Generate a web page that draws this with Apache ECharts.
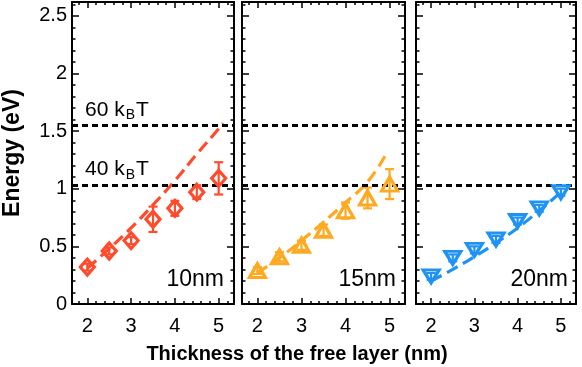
<!DOCTYPE html>
<html>
<head>
<meta charset="utf-8">
<script src="https://cdn.jsdelivr.net/npm/echarts@6/dist/echarts.min.js"></script>
<style>
html,body{margin:0;padding:0;background:#fff;}
#chart{width:582px;height:367px;}
</style>
</head>
<body>
<div id="chart"></div>
<script>
// ---- data ----
const xTickValues = [2, 3, 4, 5];
const xTickLabels = ['2', '3', '4', '5'];
const yTickValues = [0, 0.5, 1, 1.5, 2, 2.5];
const yTickLabels = ['0', '0.5', '1', '1.5', '2', '2.5'];

const thickness = [2, 2.5, 3, 3.5, 4, 4.5, 5];
const energy10 = [0.32, 0.46, 0.55, 0.735, 0.83, 0.97, 1.09];
const error10 = [0.03, 0.03, 0.03, 0.11, 0.065, 0.06, 0.14];
const energy15 = [0.29, 0.41, 0.51, 0.64, 0.81, 0.92, 1.04];
const error15 = [0.03, 0.04, 0.04, 0.05, 0.07, 0.09, 0.13];
const energy20 = [0.24, 0.40, 0.47, 0.56, 0.72, 0.83, 0.97];
const error20 = [0.03, 0.03, 0.03, 0.03, 0.03, 0.03, 0.03];

const fitX10 = [2, 2.5, 3, 3.5, 4, 4.5, 5, 5.1];
const fitY10 = [0.31, 0.48, 0.66, 0.86, 1.07, 1.30, 1.52, 1.57];
const fitX15 = [2, 2.5, 3, 3.5, 4, 4.5, 4.95];
const fitY15 = [0.27, 0.40, 0.55, 0.71, 0.88, 1.06, 1.32];
const fitX20 = [2, 2.5, 3, 3.5, 4, 4.5, 5, 5.05];
const fitY20 = [0.20, 0.30, 0.41, 0.53, 0.66, 0.81, 0.97, 0.99];

const thermalLines = [1.55, 1.035];
const thermalLabels = ['60', '40'];
const panelLabels = ['10nm', '15nm', '20nm'];

// ---- style / layout ----
const FONT = 'Liberation Sans, Arial, Helvetica, sans-serif';
const X_MIN = 1.65, X_MAX = 5.35, Y_MIN = 0, Y_MAX = 2.62;
const colors = ['#FF4B2B', '#FFA921', '#1E93F5'];
const symbols = ['diamond', 'triangle', 'triangle'];
const symbolRot = [0, 0, 180];
const symbolSizes = [[14, 16], [16, 14], [16, 13]];
const grids = [
  {left: 71, top: 2, width: 163, height: 302},
  {left: 242, top: 2, width: 163, height: 302},
  {left: 416, top: 2, width: 160, height: 302}
];

const xMinor = [];
for (let i = 9; i <= 26; i++) { const v = +(i * 0.2).toFixed(1); if (Math.abs(v - Math.round(v)) > 1e-6) xMinor.push(v); }
const yMinor = [];
for (let i = 1; i <= 26; i++) { if (i % 5 !== 0) yMinor.push(+(i * 0.1).toFixed(1)); }

const axisLineOn = {show: true, onZero: false, lineStyle: {color: '#000', width: 2}};
const axisLineOff = {show: false, onZero: false};

const xAxes = [], yAxes = [];
grids.forEach((g, gi) => {
  ['bottom', 'top'].forEach(pos => {
    xAxes.push({
      gridIndex: gi, type: 'value', min: X_MIN, max: X_MAX, position: pos,
      axisLine: axisLineOn,
      axisTick: {show: true, inside: true, length: 6, customValues: xTickValues, lineStyle: {color: '#000', width: 1.5}},
      axisLabel: {show: pos === 'bottom', customValues: xTickValues, fontSize: 20, color: '#000', fontFamily: FONT, margin: 12,
        formatter: v => xTickLabels[xTickValues.indexOf(v)] ?? ''},
      splitLine: {show: false}
    });
    xAxes.push({
      gridIndex: gi, type: 'value', min: X_MIN, max: X_MAX, position: pos,
      axisLine: axisLineOff,
      axisTick: {show: true, inside: true, length: 3, customValues: xMinor, lineStyle: {color: '#000', width: 1.5}},
      axisLabel: {show: false}, splitLine: {show: false}
    });
  });
  ['left', 'right'].forEach(pos => {
    const showLab = (gi === 0 && pos === 'left');
    yAxes.push({
      gridIndex: gi, type: 'value', min: Y_MIN, max: Y_MAX, position: pos,
      axisLine: axisLineOn,
      axisTick: {show: true, inside: true, length: 7, customValues: yTickValues, lineStyle: {color: '#000', width: 1.5}},
      axisLabel: {show: showLab, customValues: yTickValues, fontSize: 20, color: '#000', fontFamily: FONT, margin: 5,
        formatter: v => yTickLabels[yTickValues.indexOf(v)] ?? ''},
      splitLine: {show: false},
      name: showLab ? 'Energy (eV)' : '',
      nameLocation: 'middle', nameRotate: 90, nameGap: 48,
      nameTextStyle: {fontSize: 23, fontWeight: 'bold', color: '#000', fontFamily: FONT}
    });
    yAxes.push({
      gridIndex: gi, type: 'value', min: Y_MIN, max: Y_MAX, position: pos,
      axisLine: axisLineOff,
      axisTick: {show: true, inside: true, length: 3.5, customValues: yMinor, lineStyle: {color: '#000', width: 1.5}},
      axisLabel: {show: false}, splitLine: {show: false}
    });
  });
});

const energies = [energy10, energy15, energy20];
const errors = [error10, error15, error20];
const fitXs = [fitX10, fitX15, fitX20];
const fitYs = [fitY10, fitY15, fitY20];

const series = [];
grids.forEach((g, gi) => {
  const xi = gi * 4, yi = gi * 4;
  const col = colors[gi];
  series.push({
    type: 'line', xAxisIndex: xi, yAxisIndex: yi,
    data: fitXs[gi].map((x, i) => [x, fitYs[gi][i]]),
    smooth: true, symbol: 'none', z: 3,
    lineStyle: {color: col, width: 3.2, type: [12, 6]},
    markLine: {
      silent: true, symbol: 'none', animation: false,
      lineStyle: {color: '#000', width: 2.8, type: [6, 4]},
      label: {show: false},
      data: thermalLines.map(v => ({yAxis: v}))
    },
    animation: false
  });
  series.push({
    type: 'custom', xAxisIndex: xi, yAxisIndex: yi, z: 4,
    data: thickness.map((x, i) => [x, energies[gi][i], errors[gi][i]]),
    encode: {x: 0, y: 1},
    renderItem: function (params, api) {
      const x = api.value(0), y = api.value(1), e = api.value(2);
      const t = api.coord([x, y + e]), b = api.coord([x, y - e]);
      const cw = 4.5;
      const st = {stroke: col, lineWidth: 2.2};
      return {type: 'group', children: [
        {type: 'line', shape: {x1: t[0], y1: t[1], x2: b[0], y2: b[1]}, style: st},
        {type: 'line', shape: {x1: t[0] - cw, y1: t[1], x2: t[0] + cw, y2: t[1]}, style: st},
        {type: 'line', shape: {x1: b[0] - cw, y1: b[1], x2: b[0] + cw, y2: b[1]}, style: st}
      ]};
    },
    animation: false
  });
  series.push({
    type: 'scatter', xAxisIndex: xi, yAxisIndex: yi, z: 5,
    data: thickness.map((x, i) => [x, energies[gi][i]]),
    symbol: symbols[gi], symbolRotate: symbolRot[gi], symbolSize: symbolSizes[gi],
    itemStyle: {color: 'rgba(0,0,0,0)', borderColor: col, borderWidth: 3.2, opacity: 1},
    animation: false
  });
});

const graphics = grids.map((g, gi) => ({
  type: 'text', x: g.left + g.width - [10, 9, 8][gi], y: 280,
  style: {text: panelLabels[gi], fontSize: 23, fontFamily: FONT, fill: '#000', align: 'right', verticalAlign: 'middle'}
}));
// k_B T annotations just above the thermal lines (panel 1)
const yPix = v => grids[0].top + grids[0].height * (1 - (v - Y_MIN) / (Y_MAX - Y_MIN));
thermalLines.forEach((v, k) => {
  graphics.push({
    type: 'text', x: 85, y: yPix(v) - 15,
    style: {
      text: '{n|' + thermalLabels[k] + ' k}{s|B}{n|T}',
      align: 'left', verticalAlign: 'middle', fill: '#000', fontFamily: FONT, fontSize: 21,
      rich: {
        n: {fontSize: 21, fill: '#000', fontFamily: FONT},
        s: {fontSize: 14, fill: '#000', fontFamily: FONT, padding: [10, 1, 0, 1]}
      }
    }
  });
});
graphics.push({
  type: 'text', x: 297, y: 354,
  style: {text: 'Thickness of the free layer (nm)', fontSize: 20, fontWeight: 'bold', fontFamily: FONT, fill: '#000', align: 'center', verticalAlign: 'middle'}
});

const chart = echarts.init(document.getElementById('chart'), null, {renderer: 'canvas'});
chart.setOption({
  backgroundColor: '#fff',
  animation: false,
  grid: grids,
  xAxis: xAxes,
  yAxis: yAxes,
  series: series,
  graphic: graphics
});
</script>
</body>
</html>
